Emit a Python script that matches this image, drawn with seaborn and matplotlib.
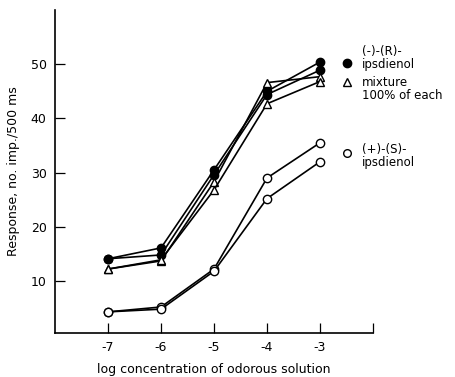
import matplotlib
matplotlib.use("Agg")
import matplotlib.pyplot as plt
import seaborn as sns
import pandas as pd

log_conc = [-7, -6, -5, -4, -3]
r_cell1 = [14.1, 16.1, 30.5, 45.0, 50.4]
r_cell2 = [14.1, 14.8, 29.6, 44.4, 48.9]
mix_cell1 = [12.2, 13.7, 28.3, 46.6, 47.7]
mix_cell2 = [12.2, 13.9, 26.8, 42.7, 46.8]
s_cell1 = [4.3, 5.2, 12.2, 29.0, 35.5]
s_cell2 = [4.3, 4.8, 11.8, 25.2, 32.0]

x_ticks = [-7, -6, -5, -4, -3, -2]
x_ticklabels = ["-7", "-6", "-5", "-4", "-3", ""]
y_ticks = [10, 20, 30, 40, 50]

series = [
    ("R1", r_cell1, "o", "black", 6),
    ("R2", r_cell2, "o", "black", 6),
    ("M1", mix_cell1, "^", "white", 6),
    ("M2", mix_cell2, "^", "white", 6),
    ("S1", s_cell1, "o", "white", 6),
    ("S2", s_cell2, "o", "white", 6),
]

sns.set_style("white")
plt.rcParams["font.family"] = ["DejaVu Sans"]
plt.rcParams["text.color"] = "black"
plt.rcParams["axes.labelcolor"] = "black"

fig = plt.figure(figsize=(4.56, 3.77), dpi=100)
ax = fig.add_axes([0.1206, 0.1167, 0.6974, 0.8568])

for name, vals, mk, fc, ms in series:
    df = pd.DataFrame({"x": log_conc, "y": vals})
    sns.lineplot(data=df, x="x", y="y", ax=ax, color="black", lw=1.2,
                 marker=mk, markersize=ms, markerfacecolor=fc,
                 markeredgecolor="black", markeredgewidth=1.0, zorder=3)

ax.set_xlim(-8, -2)
ax.set_ylim(0.4, 60)
ax.set_xticks(x_ticks)
ax.set_xticklabels(x_ticklabels)
ax.set_yticks(y_ticks)
ax.tick_params(bottom=True, left=True, direction="in", length=7, width=0.9,
               labelsize=9, colors="black", labelcolor="black", pad=6)
for s in ["top", "right"]:
    ax.spines[s].set_visible(False)
for s in ["left", "bottom"]:
    ax.spines[s].set_color("black")
    ax.spines[s].set_linewidth(1.2)

ax.set_xlabel("log concentration of odorous solution", fontsize=9, labelpad=6, color="black")
ax.set_ylabel("Response, no. imp./500 ms", fontsize=9, labelpad=8, color="black")

# legend keys and labels
ax.plot([0.918], [0.836], transform=ax.transAxes, marker="o", ms=6, color="black", clip_on=False, ls="none")
ax.plot([0.918], [0.777], transform=ax.transAxes, marker="^", ms=5.5, mfc="white", mec="black", clip_on=False, ls="none")
ax.plot([0.918], [0.557], transform=ax.transAxes, marker="o", ms=5.5, mfc="white", mec="black", clip_on=False, ls="none")
ax.text(0.965, 0.852, "(-)-(R)-\nipsdienol", transform=ax.transAxes, fontsize=8.5, va="center", ha="left", linespacing=1.0)
ax.text(0.965, 0.754, "mixture\n100% of each", transform=ax.transAxes, fontsize=8.5, va="center", ha="left", linespacing=1.0)
ax.text(0.965, 0.548, "(+)-(S)-\nipsdienol", transform=ax.transAxes, fontsize=8.5, va="center", ha="left", linespacing=1.0)

fig.savefig("out.png", dpi=100)
